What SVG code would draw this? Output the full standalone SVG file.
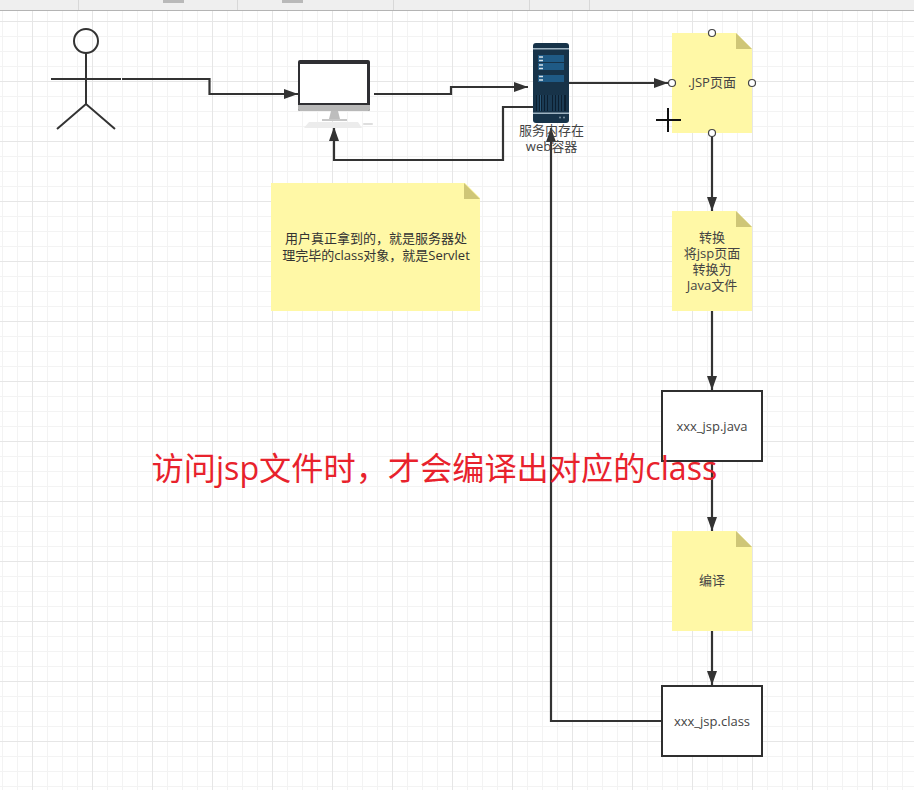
<svg xmlns="http://www.w3.org/2000/svg" width="914" height="790" viewBox="0 0 914 790">
  <style>
    text { font-family: "Open Sans", "Noto Sans CJK SC", sans-serif; font-size: 13px; fill: #444; text-anchor: middle; }
    .note { fill: #fff8a6; }
    .fold { fill: #cfc677; }
    .box { fill: #fff; stroke: #2f2f2f; stroke-width: 2; }
    .conn { fill: none; stroke: #333; stroke-width: 2.200; }
    .actor { fill: none; stroke: #333; stroke-width: 2; }
    .port { fill: #fff; stroke: #444; stroke-width: 1.200; }
    .minor { stroke: #f3f3f3; stroke-width: 1; }
    .major { stroke: #e6e6e6; stroke-width: 1; }
    .row { fill: #1f5a85; }
  </style>
  <defs>
    <marker id="arrow" markerUnits="userSpaceOnUse" markerWidth="15" markerHeight="12" refX="14" refY="6" orient="auto">
      <path d="M0 1 L14 6 L0 11 Z" fill="#333"/>
    </marker>
    <pattern id="gridMinor" width="15" height="15" patternUnits="userSpaceOnUse" x="2" y="6">
      <path d="M0.500 0 V15 M0 0.500 H15" class="minor" fill="none"/>
    </pattern>
    <pattern id="gridMajor" width="60" height="60" patternUnits="userSpaceOnUse" x="32" y="21">
      <path d="M0.500 0 V60 M0 0.500 H60" class="major" fill="none"/>
    </pattern>
  </defs>

  <!-- canvas background and grid -->
  <rect width="914" height="790" fill="#fff"/>
  <rect y="11" width="914" height="779" fill="url(#gridMinor)"/>
  <rect y="11" width="914" height="779" fill="url(#gridMajor)"/>

  <!-- toolbar strip -->
  <g id="toolbar">
    <rect width="914" height="10" fill="#efefef"/>
    <path d="M0 10.500 H914" stroke="#b4b4b4" stroke-width="1.200"/>
    <path d="M78.500 0 V10 M237.500 0 V10 M393.500 0 V10 M529.500 0 V10 M589.500 0 V10" stroke="#d8d8d8"/>
    <rect x="163" y="0" width="21" height="3" fill="#b9b9b9"/>
    <rect x="282" y="0" width="21" height="3" fill="#b9b9b9"/>
  </g>

  <!-- connectors -->
  <g id="connectors">
    <path class="conn" marker-end="url(#arrow)" d="M122 79 H209.500 V94 H298"/>
    <path class="conn" marker-end="url(#arrow)" d="M374 94 H451 V87 H528"/>
    <path class="conn" marker-end="url(#arrow)" d="M533 107 H503 V160 H334 V127"/>
    <path class="conn" marker-end="url(#arrow)" d="M569 83 H668"/>
    <path class="conn" marker-end="url(#arrow)" d="M712 133 V211"/>
    <path class="conn" marker-end="url(#arrow)" d="M712 311 V390"/>
    <path class="conn" marker-end="url(#arrow)" d="M712 461 V531"/>
    <path class="conn" marker-end="url(#arrow)" d="M712 631 V685"/>
    <path class="conn" marker-end="url(#arrow)" d="M662 721 H551 V128"/>
  </g>

  <g id="actor">
    <circle class="actor" cx="86" cy="41" r="12"/>
    <path class="actor" d="M86 53 V104 M51 79 H121 M57 129 L86 104 L115 129"/>
  </g>

  <g id="computer">
    <rect x="298" y="60" width="72" height="51" rx="2" fill="#2f2f33"/>
    <rect x="300" y="64" width="67" height="39" fill="#fff"/>
    <path d="M298 105 H370 V109 Q370 111 368 111 H300 Q298 111 298 109 Z" fill="#b8b8b8"/>
    <path d="M331 111 H338 L340 119 H329 Z" fill="#bdbdbd"/>
    <rect x="322" y="119" width="25" height="2" fill="#c8c8c8"/>
    <path d="M309 122 H358 L362 128 H304 Z" fill="#ececec"/>
    <rect x="363" y="123" width="10" height="2" rx="1" fill="#dedede"/>
  </g>

  <g id="server">
    <rect x="533" y="43" width="36" height="80" rx="3" fill="#173349"/>
    <rect x="533" y="48" width="36" height="1.500" fill="#9fb4c2"/>
    <rect x="533" y="112.500" width="36" height="1.500" fill="#9fb4c2"/>
    <rect class="row" x="538" y="55" width="26" height="7"/>
    <rect class="row" x="538" y="63" width="26" height="7"/>
    <rect class="row" x="538" y="75" width="26" height="7"/>
    <path d="M539 57 H543 M539 60.500 H543 M539 65 H543 M539 68.500 H543 M539 76.500 H543 M539 80 H543" stroke="#d5e2ea" stroke-width="1.300"/>
    <rect x="536" y="95" width="30" height="16" fill="#0c1f30"/>
    <path d="M538 95 V111 M540.500 95 V111 M543 95 V111 M546 95 V111 M549 95 V111 M551 95 V111 M554 95 V111 M557 95 V111 M560 95 V111 M563 95 V111" stroke="#2a5878" stroke-width="1"/>
    <circle cx="560" cy="117.500" r="1" fill="#7d93a3"/>
    <circle cx="564" cy="117.500" r="1" fill="#7d93a3"/>
    <text y="135"><tspan x="551.500">服务内存在</tspan><tspan x="551.500" dy="16">web容器</tspan></text>
  </g>

  <g id="note-user">
    <path class="note" d="M271 183 H465 L480 198 V311 H271 Z"/>
    <path class="fold" d="M464 183 L480 199 H464 Z"/>
    <text y="243" style="fill:#333"><tspan x="376">用户真正拿到的，就是服务器处</tspan><tspan x="376" dy="17">理完毕的class对象，就是Servlet</tspan></text>
  </g>

  <g id="note-jsp">
    <path class="note" d="M672 33 H736 L752 49 V133 H672 Z"/>
    <path class="fold" d="M736 33 L752 49 H736 Z"/>
    <text x="712" y="87">.JSP页面</text>
    <circle class="port" cx="712" cy="33" r="3.500"/>
    <circle class="port" cx="672" cy="83" r="3.500"/>
    <circle class="port" cx="752" cy="83" r="3.500"/>
    <circle class="port" cx="712" cy="133" r="3.500"/>
  </g>

  <g id="note-convert">
    <path class="note" d="M672 211 H736 L752 227 V311 H672 Z"/>
    <path class="fold" d="M736 211 L752 227 H736 Z"/>
    <text y="242"><tspan x="712">转换</tspan><tspan x="712" dy="16">将jsp页面</tspan><tspan x="712" dy="16">转换为</tspan><tspan x="712" dy="16">Java文件</tspan></text>
  </g>

  <g id="box-java">
    <rect class="box" x="662" y="391" width="100" height="70"/>
    <text x="712" y="431">xxx_jsp.java</text>
  </g>

  <g id="note-compile">
    <path class="note" d="M672 531 H736 L752 547 V631 H672 Z"/>
    <path class="fold" d="M736 531 L752 547 H736 Z"/>
    <text x="712" y="585">编译</text>
  </g>

  <g id="box-class">
    <rect class="box" x="662" y="686" width="100" height="70"/>
    <text x="712" y="726">xxx_jsp.class</text>
  </g>

  <!-- move cursor over the selected note -->
  <path id="cursor" d="M668 108 V132 M656 120 H681" stroke="#111" stroke-width="2" fill="none"/>

  <text id="caption" x="434.500" y="480" style="font-size:32.200px;fill:#e8222c;">访问jsp文件时，才会编译出对应的class</text>
</svg>
